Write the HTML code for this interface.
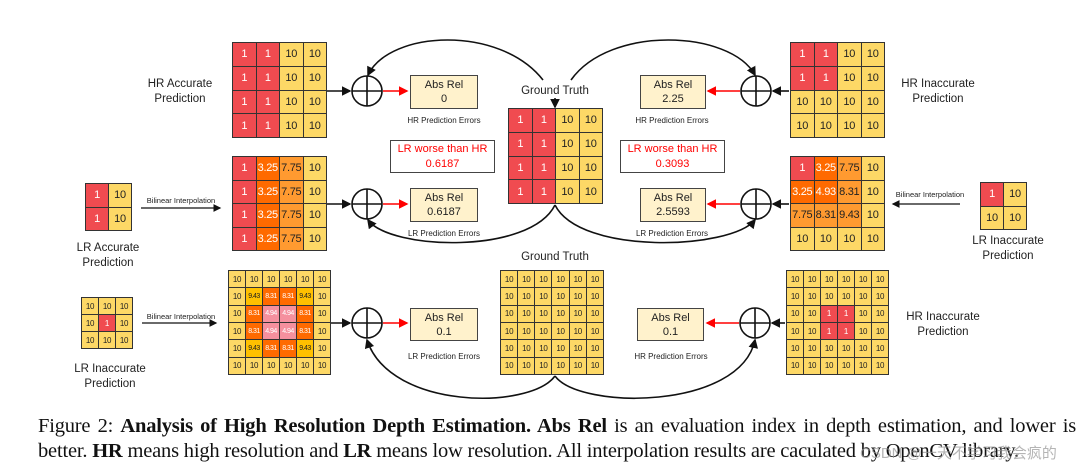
<!DOCTYPE html>
<html><head><meta charset="utf-8"><style>
body{margin:0;width:1088px;height:468px;background:#fff;position:relative;overflow:hidden;font-family:"Liberation Sans",sans-serif;}
.g{position:absolute;display:grid;border:1px solid #333;background:#333;gap:1px;box-sizing:border-box}
.g div{display:flex;align-items:center;justify-content:center;font-size:11px;color:#222;overflow:hidden;letter-spacing:-0.3px}
.g6 div{font-size:8px}
.g6 .d{font-size:7px;letter-spacing:-0.5px}
.r{background:#f04b50;color:#fff!important}
.y{background:#fdd866}
.o{background:#ff6a00;color:#fff!important}
.l{background:#ff9a30}
.p{background:#f5909e;color:#fff!important}
.k{background:#ffc000}
.t{position:absolute;font-size:11.5px;color:#222;text-align:center;line-height:15px;white-space:nowrap}
.s{position:absolute;font-size:8px;color:#222;white-space:nowrap;text-align:center}
.b{position:absolute;background:#fff2cc;border:1.5px solid #444;box-sizing:border-box;font-size:11px;text-align:center;line-height:14px;padding-top:2px;color:#222}
.w{position:absolute;background:#fff;border:1.5px solid #444;box-sizing:border-box;font-size:11px;text-align:center;line-height:15px;padding-top:1px;color:#f00}
.cap{position:absolute;left:38px;font-family:"Liberation Serif",serif;font-size:20.5px;color:#111;white-space:nowrap}
</style></head><body>
<svg width="1088" height="468" style="position:absolute;left:0;top:0">
<defs><marker id="a" markerWidth="6" markerHeight="6" refX="5" refY="3" orient="auto"><path d="M0,0L6,3L0,6z" fill="#111"/></marker>
<marker id="ar" markerWidth="6" markerHeight="6" refX="5" refY="3" orient="auto"><path d="M0,0L6,3L0,6z" fill="#f00"/></marker></defs>
<g fill="none" stroke="#111" stroke-width="1.6">
<circle cx="367" cy="91" r="15"/><path d="M352 91H382M367 76V106"/>
<circle cx="756" cy="91" r="15"/><path d="M741 91H771M756 76V106"/>
<circle cx="367" cy="204" r="15"/><path d="M352 204H382M367 189V219"/>
<circle cx="756" cy="204" r="15"/><path d="M741 204H771M756 189V219"/>
<circle cx="367" cy="323" r="15"/><path d="M352 323H382M367 308V338"/>
<circle cx="755" cy="323" r="15"/><path d="M740 323H770M755 308V338"/>
<path d="M327 91H350" marker-end="url(#a)"/>
<path d="M327 204H350" marker-end="url(#a)"/>
<path d="M331 323H350" marker-end="url(#a)"/>
<path d="M789 91H773" marker-end="url(#a)"/>
<path d="M789 204H773" marker-end="url(#a)"/>
<path d="M785 323H772" marker-end="url(#a)"/>
<path d="M141 208H220" marker-end="url(#a)" stroke-width="1.3"/>
<path d="M960 204H893" marker-end="url(#a)" stroke-width="1.3"/>
<path d="M142 323H216" marker-end="url(#a)" stroke-width="1.3"/>
<path d="M543 80C500 25 390 30 368 75" marker-end="url(#a)"/>
<path d="M571 80C610 25 730 30 755 75" marker-end="url(#a)"/>
<path d="M555 98V107" marker-end="url(#a)"/>
<path d="M555 205C530 255 390 250 368 220" marker-end="url(#a)"/>
<path d="M555 205C580 255 730 250 755 220" marker-end="url(#a)"/>
<path d="M555 376C530 410 390 410 367 340" marker-end="url(#a)"/>
<path d="M555 376C580 410 740 410 755 340" marker-end="url(#a)"/>
</g>
<g stroke="#f00" stroke-width="1.6" fill="none">
<path d="M383 91H407" marker-end="url(#ar)"/><path d="M383 204H407" marker-end="url(#ar)"/><path d="M383 323H407" marker-end="url(#ar)"/>
<path d="M740 91H708" marker-end="url(#ar)"/><path d="M740 204H708" marker-end="url(#ar)"/><path d="M739 323H707" marker-end="url(#ar)"/>
</g>
</svg>

<div class="g" style="left:232px;top:42px;width:95px;height:96px;grid-template-columns:repeat(4,1fr)">
<div class="r">1</div><div class="r">1</div><div class="y">10</div><div class="y">10</div>
<div class="r">1</div><div class="r">1</div><div class="y">10</div><div class="y">10</div>
<div class="r">1</div><div class="r">1</div><div class="y">10</div><div class="y">10</div>
<div class="r">1</div><div class="r">1</div><div class="y">10</div><div class="y">10</div></div>
<div class="g" style="left:508px;top:108px;width:95px;height:96px;grid-template-columns:repeat(4,1fr)">
<div class="r">1</div><div class="r">1</div><div class="y">10</div><div class="y">10</div>
<div class="r">1</div><div class="r">1</div><div class="y">10</div><div class="y">10</div>
<div class="r">1</div><div class="r">1</div><div class="y">10</div><div class="y">10</div>
<div class="r">1</div><div class="r">1</div><div class="y">10</div><div class="y">10</div></div>
<div class="g" style="left:790px;top:42px;width:95px;height:96px;grid-template-columns:repeat(4,1fr)">
<div class="r">1</div><div class="r">1</div><div class="y">10</div><div class="y">10</div>
<div class="r">1</div><div class="r">1</div><div class="y">10</div><div class="y">10</div>
<div class="y">10</div><div class="y">10</div><div class="y">10</div><div class="y">10</div>
<div class="y">10</div><div class="y">10</div><div class="y">10</div><div class="y">10</div></div>
<div class="g" style="left:232px;top:156px;width:95px;height:95px;grid-template-columns:repeat(4,1fr)">
<div class="r">1</div><div class="o">3.25</div><div class="l">7.75</div><div class="y">10</div>
<div class="r">1</div><div class="o">3.25</div><div class="l">7.75</div><div class="y">10</div>
<div class="r">1</div><div class="o">3.25</div><div class="l">7.75</div><div class="y">10</div>
<div class="r">1</div><div class="o">3.25</div><div class="l">7.75</div><div class="y">10</div></div>
<div class="g" style="left:790px;top:156px;width:95px;height:95px;grid-template-columns:repeat(4,1fr)">
<div class="r">1</div><div class="o">3.25</div><div class="l">7.75</div><div class="y">10</div>
<div class="o">3.25</div><div class="o">4.93</div><div class="l">8.31</div><div class="y">10</div>
<div class="l">7.75</div><div class="l">8.31</div><div class="l">9.43</div><div class="y">10</div>
<div class="y">10</div><div class="y">10</div><div class="y">10</div><div class="y">10</div></div>
<div class="g" style="left:85px;top:183px;width:47px;height:48px;grid-template-columns:1fr 1fr">
<div class="r">1</div><div class="y">10</div><div class="r">1</div><div class="y">10</div></div>
<div class="g" style="left:980px;top:182px;width:47px;height:48px;grid-template-columns:1fr 1fr">
<div class="r">1</div><div class="y">10</div><div class="y">10</div><div class="y">10</div></div>
<div class="g g6" style="left:81px;top:297px;width:52px;height:52px;grid-template-columns:repeat(3,1fr)">
<div class="y">10</div><div class="y">10</div><div class="y">10</div>
<div class="y">10</div><div class="r">1</div><div class="y">10</div>
<div class="y">10</div><div class="y">10</div><div class="y">10</div></div>
<div class="g g6" style="left:228px;top:270px;width:103px;height:105px;grid-template-columns:repeat(6,1fr)">
<div class="y">10</div><div class="y">10</div><div class="y">10</div><div class="y">10</div><div class="y">10</div><div class="y">10</div>
<div class="y">10</div><div class="k d">9.43</div><div class="o d">8.31</div><div class="o d">8.31</div><div class="k d">9.43</div><div class="y">10</div>
<div class="y">10</div><div class="o d">8.31</div><div class="p d">4.94</div><div class="p d">4.94</div><div class="o d">8.31</div><div class="y">10</div>
<div class="y">10</div><div class="o d">8.31</div><div class="p d">4.94</div><div class="p d">4.94</div><div class="o d">8.31</div><div class="y">10</div>
<div class="y">10</div><div class="k d">9.43</div><div class="o d">8.31</div><div class="o d">8.31</div><div class="k d">9.43</div><div class="y">10</div>
<div class="y">10</div><div class="y">10</div><div class="y">10</div><div class="y">10</div><div class="y">10</div><div class="y">10</div></div>
<div class="g g6" style="left:500px;top:270px;width:104px;height:105px;grid-template-columns:repeat(6,1fr)">
<div class="y">10</div><div class="y">10</div><div class="y">10</div><div class="y">10</div><div class="y">10</div><div class="y">10</div>
<div class="y">10</div><div class="y">10</div><div class="y">10</div><div class="y">10</div><div class="y">10</div><div class="y">10</div>
<div class="y">10</div><div class="y">10</div><div class="y">10</div><div class="y">10</div><div class="y">10</div><div class="y">10</div>
<div class="y">10</div><div class="y">10</div><div class="y">10</div><div class="y">10</div><div class="y">10</div><div class="y">10</div>
<div class="y">10</div><div class="y">10</div><div class="y">10</div><div class="y">10</div><div class="y">10</div><div class="y">10</div>
<div class="y">10</div><div class="y">10</div><div class="y">10</div><div class="y">10</div><div class="y">10</div><div class="y">10</div></div>
<div class="g g6" style="left:786px;top:270px;width:103px;height:105px;grid-template-columns:repeat(6,1fr)">
<div class="y">10</div><div class="y">10</div><div class="y">10</div><div class="y">10</div><div class="y">10</div><div class="y">10</div>
<div class="y">10</div><div class="y">10</div><div class="y">10</div><div class="y">10</div><div class="y">10</div><div class="y">10</div>
<div class="y">10</div><div class="y">10</div><div class="r">1</div><div class="r">1</div><div class="y">10</div><div class="y">10</div>
<div class="y">10</div><div class="y">10</div><div class="r">1</div><div class="r">1</div><div class="y">10</div><div class="y">10</div>
<div class="y">10</div><div class="y">10</div><div class="y">10</div><div class="y">10</div><div class="y">10</div><div class="y">10</div>
<div class="y">10</div><div class="y">10</div><div class="y">10</div><div class="y">10</div><div class="y">10</div><div class="y">10</div></div>

<div class="b" style="left:410px;top:75px;width:68px;height:34px">Abs Rel<br>0</div>
<div class="b" style="left:410px;top:188px;width:68px;height:34px">Abs Rel<br>0.6187</div>
<div class="b" style="left:410px;top:308px;width:68px;height:33px">Abs Rel<br>0.1</div>
<div class="b" style="left:640px;top:75px;width:66px;height:34px">Abs Rel<br>2.25</div>
<div class="b" style="left:640px;top:188px;width:66px;height:34px">Abs Rel<br>2.5593</div>
<div class="b" style="left:637px;top:308px;width:67px;height:33px">Abs Rel<br>0.1</div>
<div class="w" style="left:390px;top:140px;width:105px;height:33px">LR worse than HR<br>0.6187</div>
<div class="w" style="left:620px;top:140px;width:105px;height:33px">LR worse than HR<br>0.3093</div>

<div class="t" style="left:130px;top:77px;width:100px">HR Accurate<br>Prediction</div>
<div class="t" style="left:888px;top:77px;width:100px">HR Inaccurate<br>Prediction</div>
<div class="t" style="left:58px;top:241px;width:100px">LR Accurate<br>Prediction</div>
<div class="t" style="left:958px;top:234px;width:100px">LR Inaccurate<br>Prediction</div>
<div class="t" style="left:60px;top:362px;width:100px">LR Inaccurate<br>Prediction</div>
<div class="t" style="left:893px;top:310px;width:100px">HR Inaccurate<br>Prediction</div>
<div class="t" style="left:505px;top:84px;width:100px">Ground Truth</div>
<div class="t" style="left:505px;top:250px;width:100px">Ground Truth</div>
<div class="s" style="left:394px;top:116px;width:100px">HR Prediction Errors</div>
<div class="s" style="left:394px;top:229px;width:100px">LR Prediction Errors</div>
<div class="s" style="left:394px;top:352px;width:100px">LR Prediction Errors</div>
<div class="s" style="left:622px;top:116px;width:100px">HR Prediction Errors</div>
<div class="s" style="left:622px;top:229px;width:100px">LR Prediction Errors</div>
<div class="s" style="left:621px;top:352px;width:100px">HR Prediction Errors</div>
<div class="s" style="left:131px;top:196px;width:100px;font-size:7.5px">Bilinear Interpolation</div>
<div class="s" style="left:880px;top:190px;width:100px;font-size:7.5px">Bilinear Interpolation</div>
<div class="s" style="left:131px;top:312px;width:100px;font-size:7.5px">Bilinear Interpolation</div>

<div class="cap" style="top:415px;width:1038px;text-align:justify;text-align-last:justify;white-space:normal;height:26px;overflow:hidden;letter-spacing:-0.2px">Figure 2: <b>Analysis of High Resolution Depth Estimation. Abs Rel</b> is an evaluation index in depth estimation, and lower is</div>
<div class="cap" style="top:440px;letter-spacing:-0.2px">better. <b>HR</b> means high resolution and <b>LR</b> means low resolution. All interpolation results are caculated by OpenCV library.</div>
<div style="position:absolute;left:860px;top:442px;font-family:'Liberation Sans','Noto Sans CJK SC',sans-serif;font-size:15px;color:rgba(150,150,150,0.7);white-space:nowrap">CSDN @一天不学习我会疯的</div>
</body></html>
